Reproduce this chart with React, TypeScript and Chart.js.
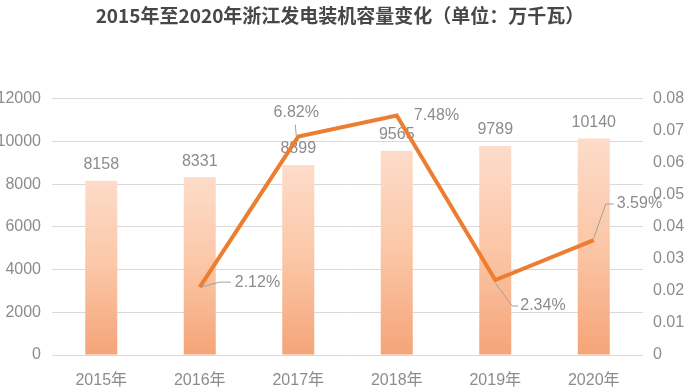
import React, { useEffect, useRef } from "react";
import { Chart, registerables } from "chart.js";

Chart.register(...registerables);

const title = "2015年至2020年浙江发电装机容量变化（单位：万千瓦）";
const categories = ["2015年", "2016年", "2017年", "2018年", "2019年", "2020年"];
const capacity = [8158, 8331, 8899, 9565, 9789, 10140];
const growth = [null, 0.0212, 0.0682, 0.0748, 0.0234, 0.0359];
const growthLabels = ["", "2.12%", "6.82%", "7.48%", "2.34%", "3.59%"];

// label placement styles (offsets from point, in px), and leader polyline offsets
const labelStyle: { dx: number; dy: number; align: CanvasTextAlign; leader: number[][] }[] = [
  { dx: 0, dy: 0, align: "left", leader: [] },
  { dx: 35, dy: -5, align: "left", leader: [[1, 0], [20, -5], [31, -5]] },
  { dx: -2, dy: -24, align: "center", leader: [[-3, -12], [-2, -1]] },
  { dx: 17, dy: 0, align: "left", leader: [] },
  { dx: 25, dy: 26, align: "left", leader: [[0, 3], [17, 26], [23, 26]] },
  { dx: 23, dy: -36, align: "left", leader: [[0, -2], [12, -36], [20, -36]] },
];

const FONT = "'Liberation Sans', 'Noto Sans CJK SC', sans-serif";
const GRAY = "#8c8c8c";

const labelsPlugin = {
  id: "labelsPlugin",
  afterDatasetDraw(chart: any, args: any) {
    if (args.index !== 0) return;
    const c = chart.ctx;
    const meta = chart.getDatasetMeta(0);
    c.save();
    c.font = `16px ${FONT}`;
    c.fillStyle = GRAY;
    c.textAlign = "center";
    c.textBaseline = "middle";
    meta.data.forEach((el: any, i: number) => {
      c.fillText(String(capacity[i]), el.x, el.y - 16);
    });
    c.restore();
  },
  afterDatasetsDraw(chart: any) {
    const c = chart.ctx;
    const meta = chart.getDatasetMeta(1);
    c.save();
    c.font = `16px ${FONT}`;
    c.textBaseline = "middle";
    meta.data.forEach((el: any, i: number) => {
      if (growth[i] == null) return;
      const s = labelStyle[i];
      const px = el.x;
      const py = el.y;
      if (s.leader.length) {
        c.strokeStyle = "#a0a0a0";
        c.lineWidth = 1;
        c.beginPath();
        s.leader.forEach((p, k) => {
          if (k === 0) c.moveTo(px + p[0], py + p[1]);
          else c.lineTo(px + p[0], py + p[1]);
        });
        c.stroke();
      }
      c.fillStyle = GRAY;
      c.textAlign = s.align;
      c.fillText(growthLabels[i], px + s.dx, py + s.dy);
    });
    c.restore();
  },
};

export default function App() {
  const ref = useRef<HTMLCanvasElement | null>(null);
  useEffect(() => {
    if (!ref.current) return;
    const chart = new Chart(ref.current, {
      type: "bar",
      data: {
        labels: categories,
        datasets: [
          {
            type: "bar",
            data: capacity,
            yAxisID: "y",
            order: 1,
            barPercentage: 0.325,
            categoryPercentage: 1,
            backgroundColor: (ctx: any) => {
              const chart = ctx.chart;
              const area = chart.chartArea;
              if (!area) return "#f8c0a0";
              const ys = chart.scales.y;
              const v = ctx.raw as number;
              const top = ys.getPixelForValue(v);
              const bottom = ys.getPixelForValue(0);
              const g = chart.ctx.createLinearGradient(0, top, 0, bottom);
              g.addColorStop(0, "#fddcc9");
              g.addColorStop(0.5, "#fbc6a6");
              g.addColorStop(1, "#f5a478");
              return g;
            },
          } as any,
          {
            type: "line",
            data: growth,
            yAxisID: "y1",
            order: 0,
            borderColor: "#ed7d31",
            borderWidth: 4,
            pointRadius: 0,
            fill: false,
            tension: 0,
          } as any,
        ],
      },
      options: {
        responsive: false,
        animation: false,
        layout: { padding: 0 },
        plugins: {
          legend: { display: false },
          tooltip: { enabled: false },
          title: {
            display: true,
            text: title,
            color: "#474747",
            font: { family: "'Noto Sans CJK SC', sans-serif", size: 19, weight: "bold" },
            padding: { top: 4, bottom: 72 },
          },
        },
        scales: {
          x: {
            grid: { display: false },
            border: { display: false },
            ticks: { color: GRAY, font: { family: FONT, size: 16 }, padding: 8 },
            afterFit: (s: any) => {
              s.height = 32;
            },
          },
          y: {
            position: "left",
            min: 0,
            max: 12000,
            ticks: {
              stepSize: 2000,
              color: GRAY,
              font: { family: FONT, size: 16 },
              padding: 11,
              callback: (v: any) => String(v),
            },
            grid: { color: "#d9d9d9", lineWidth: 1, drawTicks: false },
            border: { display: false },
            afterFit: (s: any) => {
              s.width = 64;
            },
          },
          y1: {
            position: "right",
            min: 0,
            max: 0.08,
            ticks: {
              stepSize: 0.01,
              color: GRAY,
              font: { family: FONT, size: 16 },
              padding: 10,
              callback: (v: any) => (Number(v) === 0 ? "0" : Number(v).toFixed(2)),
            },
            grid: { display: false, drawTicks: false },
            border: { display: false },
            afterFit: (s: any) => {
              s.width = 49;
            },
          },
        },
      },
      plugins: [labelsPlugin],
    });
    return () => chart.destroy();
  }, []);
  return (
    <canvas
      ref={ref}
      width={704}
      height={387}
      style={{ position: "absolute", left: -12, top: 0, width: 704, height: 387 }}
    />
  );
}
